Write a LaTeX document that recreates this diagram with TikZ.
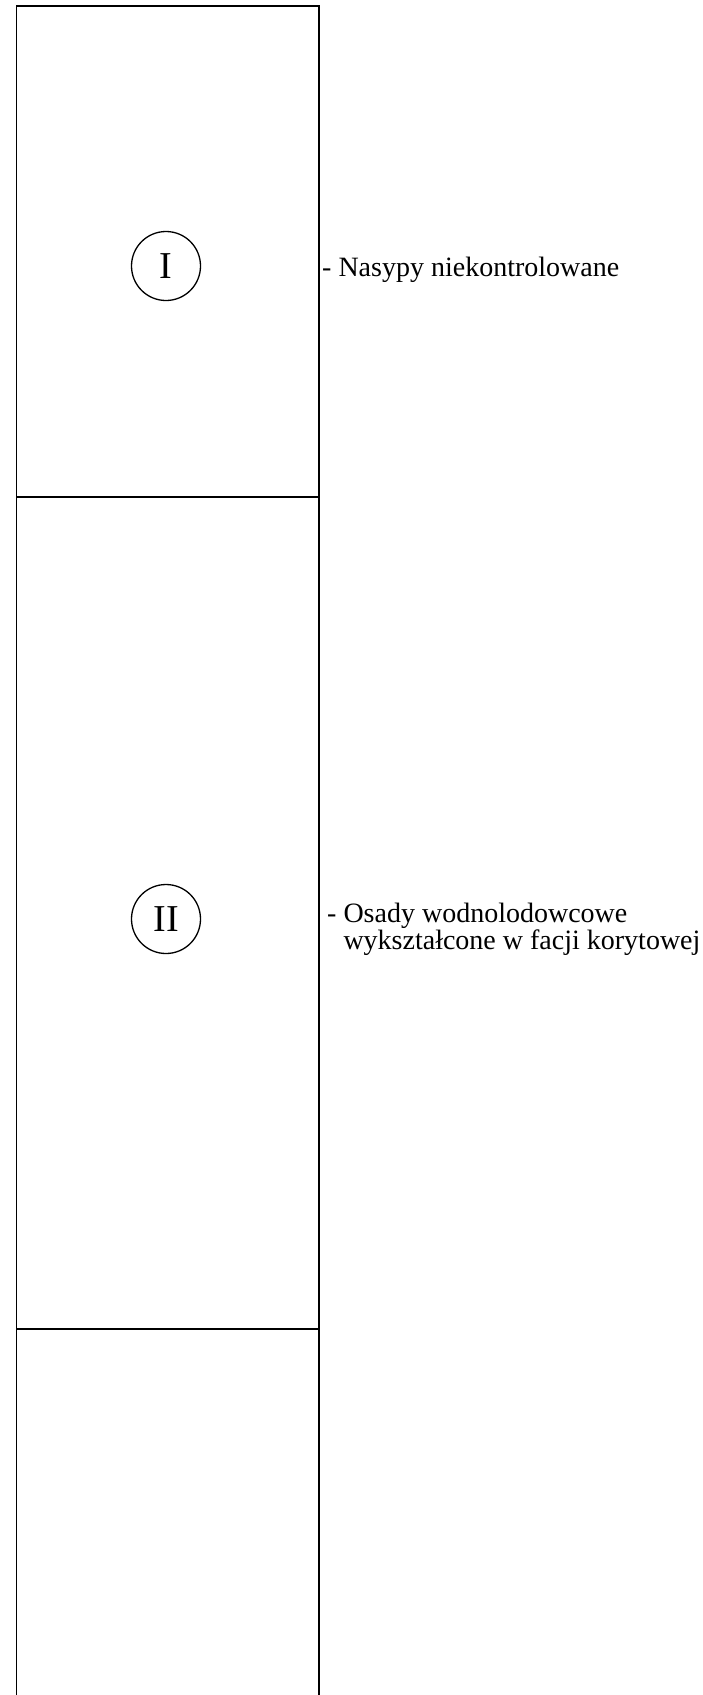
\documentclass[tikz,border=0pt]{standalone}
\usepackage{fontspec}
\setmainfont{Liberation Serif}
\begin{document}
\begin{tikzpicture}[x=1pt,y=-1pt,
  column/.style={line width=1.8pt},
  unitmark/.style={circle,draw,line width=1.3pt,minimum size=69pt,inner sep=0pt,
    font=\fontsize{38}{40}\selectfont},
  desc/.style={anchor=base west,inner sep=0pt,align=left,
    font=\fontsize{28}{22}\selectfont}]
\useasboundingbox (0,0) rectangle (703,1695);
% column outline, open at the bottom
\draw[column] (16.5,1695) -- (16.5,5.7) -- (319,5.7) -- (319,1695);
% layer boundaries
\draw[column] (16.5,497.3) -- (319,497.3);
\draw[column] (16.5,1329.3) -- (319,1329.3);
% layer numbers
\node[unitmark] (u1) at (166,266) {I};
\node[unitmark] (u2) at (166,919) {II};
% layer descriptions (base anchor sits on the last line)
\node[desc] (d1) at (322,276) {- Nasypy niekontrolowane};
\node[desc] (d2) at (327,949) {- Osady wodnolodowcowe\\\phantom{- }wykształcone w facji korytowej};
\end{tikzpicture}
\end{document}
